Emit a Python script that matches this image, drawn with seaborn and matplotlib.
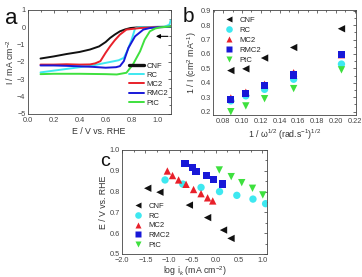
import numpy as np
import pandas as pd
import matplotlib
matplotlib.use("Agg")
import matplotlib.pyplot as plt
import seaborn as sns
from matplotlib.ticker import MultipleLocator
from matplotlib.lines import Line2D

sns.set_theme(style="white")
plt.rcParams['font.family'] = ['Liberation Sans', 'DejaVu Sans']
plt.rcParams['mathtext.fontset'] = 'custom'
plt.rcParams['mathtext.rm'] = 'Liberation Sans'
plt.rcParams['mathtext.it'] = 'Liberation Sans:italic'

samples = ["CNF", "RC", "MC2", "RMC2", "PtC"]
colors = {"CNF": "#111111", "RC": "#3ee8f0", "MC2": "#e8202a", "RMC2": "#1818d8", "PtC": "#3ee03e"}
markers = {"CNF": "<", "RC": "o", "MC2": "^", "RMC2": "s", "PtC": "v"}

# ---- panel a: polarization curves ----
E_cnf = [0.1, 0.2, 0.3, 0.4, 0.48, 0.55, 0.6, 0.635, 0.67, 0.71, 0.75, 0.79, 0.85, 0.95, 1.05, 1.1]
I_cnf = [-1.8, -1.68, -1.54, -1.42, -1.28, -1.1, -0.85, -0.61, -0.42, -0.23, -0.12, -0.04, 0.0, 0.02, 0.03, 0.05]
E_rc = [0.1, 0.2, 0.3, 0.4, 0.5, 0.6, 0.7, 0.74, 0.77, 0.80, 0.826, 0.85, 0.95, 1.05, 1.09, 1.1]
I_rc = [-2.6, -2.5, -2.4, -2.3, -2.2, -2.05, -1.9, -1.76, -1.3, -0.71, -0.07, 0.0, 0.02, 0.03, 0.15, 0.4]
E_mc2 = [0.1, 0.2, 0.3, 0.4, 0.48, 0.52, 0.56, 0.6, 0.635, 0.67, 0.71, 0.76, 0.865, 0.95, 1.1]
I_mc2 = [-2.15, -2.15, -2.13, -2.15, -2.14, -2.08, -1.95, -1.47, -1.09, -0.75, -0.42, -0.13, -0.04, 0.0, 0.03]
E_rmc2 = [0.1, 0.2, 0.3, 0.4, 0.5, 0.6, 0.68, 0.71, 0.74, 0.775, 0.826, 0.89, 0.94, 1.0, 1.1]
I_rmc2 = [-2.2, -2.2, -2.22, -2.25, -2.28, -2.33, -2.3, -2.24, -1.95, -1.19, -0.52, -0.13, -0.04, 0.0, 0.03]
E_ptc = [0.1, 0.2, 0.3, 0.4, 0.5, 0.6, 0.686, 0.76, 0.81, 0.865, 0.90, 0.94, 0.98, 1.02, 1.1]
I_ptc = [-2.7, -2.68, -2.68, -2.68, -2.69, -2.7, -2.72, -2.62, -2.14, -1.38, -0.71, -0.23, -0.07, 0.0, 0.05]

curve_E = {"CNF": E_cnf, "RC": E_rc, "MC2": E_mc2, "RMC2": E_rmc2, "PtC": E_ptc}
curve_I = {"CNF": I_cnf, "RC": I_rc, "MC2": I_mc2, "RMC2": I_rmc2, "PtC": I_ptc}

# ---- panel b: Koutecky-Levich ----
inv_sqrt_w = [0.088, 0.104, 0.124, 0.155, 0.206]
kl_cnf = [0.485, 0.497, 0.572, 0.645, 0.775]
kl_rc = [0.275, 0.31, 0.355, 0.425, 0.53]
kl_mc2 = [0.295, 0.335, 0.39, 0.47, 0.595]
kl_rmc2 = [0.285, 0.325, 0.38, 0.455, 0.595]
kl_ptc = [0.20, 0.24, 0.29, 0.36, 0.49]
kl = {"CNF": kl_cnf, "RC": kl_rc, "MC2": kl_mc2, "RMC2": kl_rmc2, "PtC": kl_ptc}

# ---- panel c: Tafel ----
tf_x_cnf = [-1.45, -1.19, -0.56, -0.17, 0.17, 0.33]
tf_y_cnf = [0.816, 0.797, 0.735, 0.675, 0.615, 0.575]
tf_x_rc = [-1.08, -0.70, -0.31, 0.085, 0.455, 0.80, 1.07]
tf_y_rc = [0.856, 0.836, 0.82, 0.80, 0.782, 0.764, 0.742]
tf_x_mc2 = [-1.03, -0.92, -0.79, -0.63, -0.47, -0.31, -0.17, -0.06]
tf_y_mc2 = [0.899, 0.877, 0.856, 0.835, 0.81, 0.79, 0.77, 0.755]
tf_x_rmc2 = [-0.65, -0.49, -0.42, -0.19, -0.045, 0.15]
tf_y_rmc2 = [0.936, 0.917, 0.896, 0.877, 0.859, 0.837]
tf_x_ptc = [0.08, 0.335, 0.56, 0.79, 1.01]
tf_y_ptc = [0.904, 0.872, 0.843, 0.816, 0.784]
tf_x = {"CNF": tf_x_cnf, "RC": tf_x_rc, "MC2": tf_x_mc2, "RMC2": tf_x_rmc2, "PtC": tf_x_ptc}
tf_y = {"CNF": tf_y_cnf, "RC": tf_y_rc, "MC2": tf_y_mc2, "RMC2": tf_y_rmc2, "PtC": tf_y_ptc}

df_a = pd.concat([pd.DataFrame({"E": curve_E[s], "I": curve_I[s], "sample": s}) for s in samples], ignore_index=True)
df_b = pd.concat([pd.DataFrame({"x": inv_sqrt_w, "y": kl[s], "sample": s}) for s in samples], ignore_index=True)
df_c = pd.concat([pd.DataFrame({"x": tf_x[s], "y": tf_y[s], "sample": s}) for s in samples], ignore_index=True)

W, H = 362, 277
fig = plt.figure(figsize=(W / 100, H / 100), dpi=100)

def box(l, r, t, b):
    return [l / W, (H - b) / H, (r - l) / W, (b - t) / H]

ax_a = fig.add_axes(box(27.5, 170.7, 10, 114))
ax_b = fig.add_axes(box(213, 356, 10, 115))
ax_c = fig.add_axes(box(122, 267, 150, 254))

TICK = 5.3
LAB = 6.3

def style(ax):
    ax.tick_params(which="both", direction="in", top=True, right=True, labelsize=TICK,
                   length=2.2, width=0.5, colors="#333333", labelcolor="#444444")
    ax.tick_params(axis="x", pad=2.2)
    ax.tick_params(axis="y", pad=1.5)
    ax.tick_params(which="minor", length=1.2)
    for sp in ax.spines.values():
        sp.set_linewidth(0.6)
        sp.set_color("#444444")

# panel a
sns.lineplot(data=df_a, x="E", y="I", hue="sample", palette=colors, hue_order=samples,
             sort=False, estimator=None, ax=ax_a, linewidth=1.4, legend=False)
ax_a.set_xlim(0, 1.1)
ax_a.set_ylim(-5, 1)
ax_a.xaxis.set_major_locator(MultipleLocator(0.2))
ax_a.xaxis.set_minor_locator(MultipleLocator(0.1))
ax_a.yaxis.set_major_locator(MultipleLocator(1))
ax_a.yaxis.set_minor_locator(MultipleLocator(0.5))
ax_a.set_xlabel("E / V vs. RHE", fontsize=LAB, color="#333333", labelpad=2)
ax_a.set_ylabel("I / mA cm$^{-2}$", fontsize=LAB, color="#333333", labelpad=1)
ax_a.annotate("", xy=(0.965, -0.52), xytext=(1.1, -0.52),
              arrowprops=dict(arrowstyle="-|>", color="black", lw=0.8, mutation_scale=6))
handles = [Line2D([], [], color=colors[s], lw=(2.4 if s == "CNF" else 1.4)) for s in samples]
ax_a.legend(handles, samples, loc="lower right", bbox_to_anchor=(1.02, 0.02), frameon=False,
            fontsize=5.5, handlelength=2.0, handletextpad=0.3, labelspacing=0.25, borderpad=0.2)
style(ax_a)

# panel b
sns.scatterplot(data=df_b, x="x", y="y", hue="sample", style="sample", palette=colors,
                markers=markers, hue_order=samples, style_order=samples, s=28,
                edgecolor="none", ax=ax_b)
ax_b.set_xlim(0.069, 0.2215)
ax_b.set_ylim(0.177, 0.905)
ax_b.xaxis.set_major_locator(MultipleLocator(0.02))
ax_b.xaxis.set_minor_locator(MultipleLocator(0.01))
ax_b.yaxis.set_major_locator(MultipleLocator(0.1))
ax_b.yaxis.set_minor_locator(MultipleLocator(0.05))
ax_b.set_xlabel("1 / \u03c9$^{1/2}$ (rad.s$^{-1}$)$^{1/2}$", fontsize=LAB, color="#333333", labelpad=2)
ax_b.set_ylabel("1 / I (cm$^{2}$ mA$^{-1}$)", fontsize=LAB, color="#333333", labelpad=1)
ax_b.legend(loc="upper left", bbox_to_anchor=(0.02, 0.99), frameon=False, fontsize=5.5,
            handletextpad=0.4, labelspacing=0.35, borderpad=0.2, markerscale=0.9, title=None)
style(ax_b)

# panel c
sns.scatterplot(data=df_c, x="x", y="y", hue="sample", style="sample", palette=colors,
                markers=markers, hue_order=samples, style_order=samples, s=28,
                edgecolor="none", ax=ax_c)
ax_c.set_xlim(-2.0, 1.1)
ax_c.set_ylim(0.5, 1.0)
ax_c.xaxis.set_major_locator(MultipleLocator(0.5))
ax_c.xaxis.set_minor_locator(MultipleLocator(0.25))
ax_c.yaxis.set_major_locator(MultipleLocator(0.1))
ax_c.yaxis.set_minor_locator(MultipleLocator(0.05))
ax_c.set_xlabel("log i$_{k}$ (mA cm$^{-2}$)", fontsize=LAB, color="#333333", labelpad=0.5)
ax_c.set_ylabel("E / V vs. RHE", fontsize=LAB, color="#333333", labelpad=1)
ax_c.legend(loc="lower left", bbox_to_anchor=(0.02, 0.0), frameon=False, fontsize=5.5,
            handletextpad=0.4, labelspacing=0.3, borderpad=0.2, markerscale=0.9, title=None)
style(ax_c)

fig.text(11 / W, 1 - 18 / H, "a", fontsize=16, ha="center", va="center", color="#111111")
fig.text(188 / W, 1 - 17 / H, "b", fontsize=15, ha="center", va="center", color="#111111")
fig.text(105 / W, 1 - 161 / H, "c", fontsize=14, ha="center", va="center", color="#111111")

fig.savefig("out.png", dpi=100, facecolor="white")
